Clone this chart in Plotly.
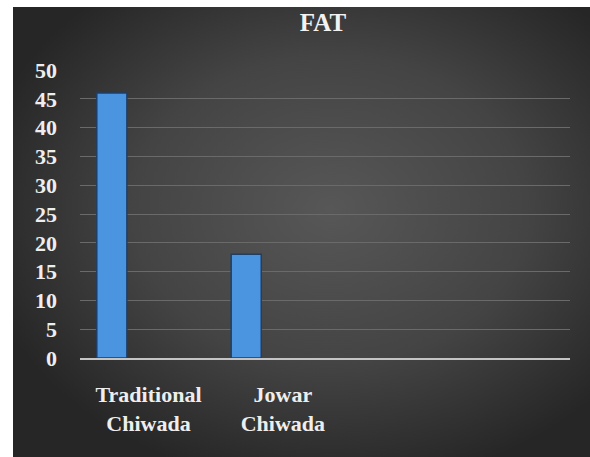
import base64
import plotly.graph_objects as go

# Fat content per product
categories = ["Traditional<br>Chiwada", "Jowar<br>Chiwada"]
fat_values = [46, 18]
y_ticks = [0, 5, 10, 15, 20, 25, 30, 35, 40, 45, 50]

W, H = 590, 457
M_L, M_R, M_T, M_B = 80, 20, 70, 99
plot_w = W - M_L - M_R
plot_h = H - M_T - M_B

# Dark radial-gradient backdrop for the chart panel
svg = """<svg xmlns='http://www.w3.org/2000/svg' width='577' height='450' viewBox='0 0 577 450' preserveAspectRatio='none'>
<defs><radialGradient id='g' cx='0.55' cy='0.45' r='0.62'>
<stop offset='0' stop-color='#575757'/>
<stop offset='0.55' stop-color='#444444'/>
<stop offset='1' stop-color='#262626'/>
</radialGradient></defs>
<rect width='577' height='450' fill='url(#g)'/>
</svg>"""
bg_src = "data:image/svg+xml;base64," + base64.b64encode(svg.encode()).decode()

panel_left, panel_top = 13, 7
img_x0 = (panel_left - M_L) / plot_w
img_x1 = (W - M_L) / plot_w
img_y1 = (H - M_B - panel_top) / plot_h
img_y0 = (H - M_B - H) / plot_h

serif = "Liberation Serif, Times New Roman, serif"

fig = go.Figure(
    go.Bar(
        x=categories,
        y=fat_values,
        width=0.224,
        offset=-0.385,
        marker=dict(color="#4a94e0", line=dict(color="#1f3f66", width=1.5)),
        showlegend=False,
    )
)

fig.update_layout(
    width=W,
    height=H,
    margin=dict(l=M_L, r=M_R, t=M_T, b=M_B),
    paper_bgcolor="white",
    plot_bgcolor="rgba(0,0,0,0)",
    title=dict(
        text="FAT",
        x=323 / W,
        xref="container",
        xanchor="center",
        y=1 - 22 / H,
        yref="container",
        yanchor="middle",
        font=dict(family=serif, size=25, color="#f2f2f2", weight="bold"),
    ),
    images=[
        dict(
            source=bg_src,
            xref="paper",
            yref="paper",
            x=img_x0,
            y=img_y1,
            sizex=img_x1 - img_x0,
            sizey=img_y1 - img_y0,
            xanchor="left",
            yanchor="top",
            sizing="stretch",
            layer="below",
        )
    ],
    xaxis=dict(
        type="category",
        range=[-0.51, 3.137],
        showgrid=False,
        showline=True,
        linecolor="#c4c4c4",
        linewidth=2,
        ticks="",
        ticklabelstandoff=16,
        tickfont=dict(family=serif, size=22, color="#eeeeee", weight="bold"),
    ),
    yaxis=dict(
        range=[0, 50],
        tickvals=y_ticks,
        showgrid=True,
        gridcolor="#6a6a6a",
        gridwidth=1,
        zeroline=False,
        showline=False,
        ticks="",
        ticklabelstandoff=22,
        tickfont=dict(family=serif, size=22, color="#eeeeee", weight="bold"),
    ),
)

fig.write_html("out.html")
